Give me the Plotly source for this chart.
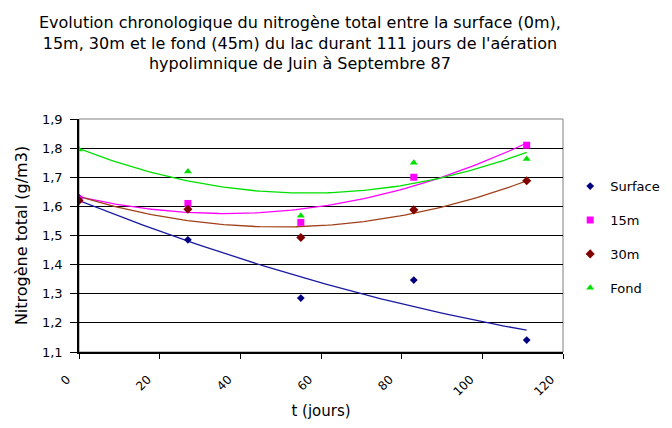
import numpy as np
import plotly.graph_objects as go

jours = [0, 27, 55, 83, 111]
surface = [1.63, 1.485, 1.285, 1.347, 1.141]
m15 = [1.625, 1.61, 1.545, 1.70, 1.81]
m30 = [1.62, 1.59, 1.493, 1.588, 1.688]
fond = [1.795, 1.72, 1.568, 1.75, 1.763]

series = [
    ("Surface", surface, "#000080", "#1a1aa0", "diamond", 6),
    ("15m", m15, "#FF00FF", "#FF00FF", "square", 7),
    ("30m", m30, "#800000", "#A0401A", "diamond", 7),
    ("Fond", fond, "#00E000", "#00E000", "triangle-up", 7),
]

fig = go.Figure()
xs = np.linspace(0, 111, 100)
for name, vals, col, tcol, sym, sz in series:
    # courbe de tendance polynomiale d'ordre 2, comme dans Excel
    coef = np.polyfit(jours, vals, 2)
    fig.add_trace(go.Scatter(x=xs, y=np.polyval(coef, xs), mode="lines",
                             line=dict(color=tcol, width=1.3), showlegend=False,
                             hoverinfo="skip"))
for name, vals, col, tcol, sym, sz in series:
    fig.add_trace(go.Scatter(x=jours, y=vals, mode="markers", name=name,
                             legendgroup=name,
                             marker=dict(color=col, symbol=sym, size=sz)))

fig.update_layout(
    width=656, height=412,
    paper_bgcolor="white", plot_bgcolor="white",
    font=dict(family="DejaVu Sans", size=13, color="black"),
    margin=dict(l=71, r=101, t=111, b=68),
    title=dict(text="Evolution chronologique du nitrogène total entre la surface (0m),<br>"
                    "15m, 30m et le fond (45m) du lac durant 111 jours de l'aération<br>"
                    "hypolimnique de Juin à Septembre 87",
               x=0.445, xanchor="center", y=0.952, yanchor="top",
               font=dict(size=16)),
    legend=dict(xref="container", yref="container", x=0.857, xanchor="left",
                y=0.604, yanchor="top",
                tracegroupgap=14, font=dict(size=13), itemwidth=30),
    showlegend=True,
    separators=", ",
)
fig.update_xaxes(range=[0, 120], tickvals=[0, 20, 40, 60, 80, 100, 120],
                 tickangle=-45, ticks="outside", ticklen=5, tickcolor="black",
                 ticklabelstandoff=9, ticklabelshift=-12,
                 tickfont=dict(size=12),
                 showline=True, linecolor="black", linewidth=1.5, mirror=False,
                 showgrid=False, zeroline=False, automargin=False,
                 title=dict(text="t (jours)", font=dict(size=15), standoff=20))
fig.update_yaxes(range=[1.1, 1.9], dtick=0.1, tickformat=".1f",
                 ticks="outside", ticklen=7, tickcolor="black",
                 ticklabelstandoff=5, tickfont=dict(size=13),
                 showline=True, linecolor="black", linewidth=1.5,
                 showgrid=True, gridcolor="black", gridwidth=1.2, zeroline=False,
                 automargin=False,
                 title=dict(text="Nitrogène total (g/m3)", font=dict(size=16), standoff=10))
fig.add_shape(type="rect", xref="paper", yref="paper", x0=0, x1=1, y0=0, y1=1,
              line=dict(color="#808080", width=1), layer="below")

fig.write_html("out.html")
